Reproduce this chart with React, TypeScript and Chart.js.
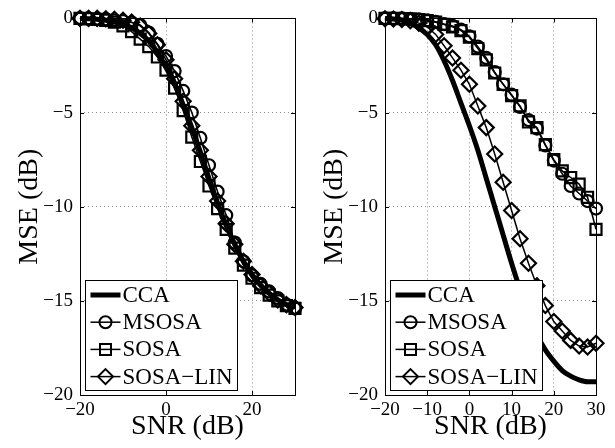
import React, { useEffect, useRef } from 'react';
import { Chart, registerables } from 'chart.js';

Chart.register(...registerables);

const snr = [-20, -18, -16, -14, -12, -10, -8, -6, -4, -2, 0, 2, 4, 6, 8, 10, 12, 14, 16, 18, 20, 22, 24, 26, 28, 30];

const ccaLeft = [0, -0.02, -0.05, -0.1, -0.2, -0.3, -0.5, -0.8, -1.2, -1.8, -2.6, -3.5, -4.6, -5.8, -7.1, -8.5, -9.8, -11.0, -12.0, -12.9, -13.6, -14.15, -14.6, -14.95, -15.2, -15.35];
const msosaLeft = [0, 0, -0.02, -0.05, -0.1, -0.15, -0.22, -0.35, -0.75, -1.35, -2.0, -2.8, -3.85, -5.0, -6.35, -7.8, -9.2, -10.45, -11.9, -12.9, -13.65, -14.1, -14.5, -14.85, -15.2, -15.4];
const sosaLeft = [0, -0.02, -0.05, -0.1, -0.2, -0.4, -0.7, -1.1, -1.5, -2.05, -2.75, -3.7, -4.9, -6.3, -7.6, -8.9, -10.1, -11.2, -12.2, -13.1, -13.8, -14.3, -14.7, -15.0, -15.25, -15.4];
const sosaLinLeft = [0, 0, 0, -0.02, -0.05, -0.1, -0.2, -0.4, -0.8, -1.4, -2.2, -3.2, -4.4, -5.7, -7.0, -8.4, -9.7, -10.9, -12.0, -12.9, -13.6, -14.2, -14.6, -14.95, -15.2, -15.35];

const ccaRight = [0, -0.03, -0.1, -0.25, -0.5, -0.85, -1.4, -2.25, -3.3, -4.5, -5.7, -7.0, -8.5, -10.0, -11.5, -13.0, -14.4, -15.7, -16.8, -17.6, -18.2, -18.7, -19.0, -19.2, -19.3, -19.3];
const msosaRight = [0, 0, 0, -0.02, -0.05, -0.1, -0.18, -0.3, -0.4, -0.6, -0.95, -1.5, -2.1, -2.85, -3.5, -4.05, -4.7, -5.4, -5.85, -6.75, -7.55, -8.25, -8.9, -9.3, -9.7, -10.1];
const sosaRight = [0, 0, -0.01, -0.03, -0.06, -0.12, -0.2, -0.32, -0.45, -0.65, -1.0, -1.6, -2.2, -2.9, -3.5, -4.1, -4.65, -5.5, -5.8, -6.7, -7.5, -8.1, -8.45, -8.8, -9.5, -11.2];
const sosaLinRight = [-0.02, -0.03, -0.06, -0.12, -0.25, -0.45, -0.85, -1.45, -2.1, -2.75, -3.5, -4.65, -5.8, -7.2, -8.7, -10.2, -11.7, -13.0, -14.2, -15.25, -16.1, -16.6, -17.1, -17.4, -17.45, -17.25];

const seriesNames = ['CCA', 'MSOSA', 'SOSA', 'SOSA\u2212LIN'];
const xTicksLeft = [-20, 0, 20];
const xTicksRight = [-20, -10, 0, 10, 20, 30];
const yTicks = [-20, -15, -10, -5, 0];
const xTitle = 'SNR (dB)';
const yTitle = 'MSE (dB)';

const SERIF = '"Liberation Serif", "Times New Roman", serif';

const fmt = (v: number) => String(v).replace('-', '\u2212');

const framePlugin = {
  id: 'frame',
  afterDatasetsDraw(chart: any) {
    const { ctx, chartArea: a, scales } = chart;
    ctx.save();
    ctx.strokeStyle = '#000';
    ctx.lineWidth = 1;
    ctx.strokeRect(Math.round(a.left) + 0.5, Math.round(a.top) + 0.5, Math.round(a.right - a.left), Math.round(a.bottom - a.top));
    const tl = 4;
    ctx.beginPath();
    scales.x.ticks.forEach((t: any) => {
      const px = Math.round(scales.x.getPixelForValue(t.value)) + 0.5;
      ctx.moveTo(px, a.bottom); ctx.lineTo(px, a.bottom - tl);
      ctx.moveTo(px, a.top); ctx.lineTo(px, a.top + tl);
    });
    scales.y.ticks.forEach((t: any) => {
      const py = Math.round(scales.y.getPixelForValue(t.value)) + 0.5;
      ctx.moveTo(a.left, py); ctx.lineTo(a.left + tl, py);
      ctx.moveTo(a.right, py); ctx.lineTo(a.right - tl, py);
    });
    ctx.stroke();
    ctx.restore();
  },
};

function drawMarker(ctx: CanvasRenderingContext2D, style: string, x: number, y: number) {
  ctx.beginPath();
  if (style === 'circle') {
    ctx.arc(x, y, 6, 0, Math.PI * 2);
  } else if (style === 'rect') {
    ctx.rect(x - 5.5, y - 5.5, 11, 11);
  } else if (style === 'rectRot') {
    ctx.moveTo(x, y - 7.5); ctx.lineTo(x + 7.5, y); ctx.lineTo(x, y + 7.5); ctx.lineTo(x - 7.5, y); ctx.closePath();
  }
  ctx.stroke();
}

const legendPlugin = {
  id: 'boxLegend',
  afterDraw(chart: any) {
    const { ctx, chartArea: a } = chart;
    const bx = Math.round(a.left) + 5.5;
    const by = Math.round(a.bottom) - 114.5;
    const bw = 152;
    const bh = 110;
    ctx.save();
    ctx.fillStyle = '#fff';
    ctx.fillRect(bx, by, bw, bh);
    ctx.strokeStyle = '#000';
    ctx.lineWidth = 1;
    ctx.strokeRect(bx, by, bw, bh);
    ctx.font = `23px ${SERIF}`;
    ctx.textBaseline = 'middle';
    ctx.fillStyle = '#000';
    chart.data.datasets.forEach((ds: any, i: number) => {
      const y = by + 14.5 + i * 27.2;
      ctx.strokeStyle = '#000';
      ctx.lineWidth = ds.borderWidth;
      ctx.beginPath();
      ctx.moveTo(bx + 5, y);
      ctx.lineTo(bx + 35, y);
      ctx.stroke();
      if (ds.pointRadius > 0) {
        ctx.lineWidth = 2;
        drawMarker(ctx, ds.pointStyle, bx + 20, y);
      }
      ctx.fillText(ds.label, bx + 37, y + 1);
    });
    ctx.restore();
  },
};

function buildDatasets(values: number[][]) {
  const styles = ['', 'circle', 'rect', 'rectRot'];
  const radii = [0, 6, 7.8, 7.5];
  return values.map((arr, i) => ({
    label: seriesNames[i],
    data: snr.map((x, j) => ({ x, y: arr[j] })),
    borderColor: '#000',
    backgroundColor: 'transparent',
    borderWidth: i === 0 ? 5 : 1.5,
    pointRadius: radii[i],
    pointStyle: styles[i] || 'circle',
    pointBorderWidth: 2.2,
    pointBorderColor: '#000',
    pointBackgroundColor: 'transparent',
    cubicInterpolationMode: i === 0 ? 'monotone' : 'default',
    tension: 0,
    clip: false,
  }));
}

function Panel(props: { left: number; width: number; padRight: number; values: number[][]; xTicks: number[] }) {
  const ref = useRef<HTMLCanvasElement>(null);
  useEffect(() => {
    const canvas = ref.current!;
    const gridCfg = { color: 'rgba(0,0,0,0.45)', lineWidth: 1, drawTicks: false };
    const borderCfg = { display: false, dash: [1, 3] };
    const chart = new Chart(canvas, {
      type: 'line',
      data: { datasets: buildDatasets(props.values) as any },
      options: {
        animation: false,
        responsive: false,
        devicePixelRatio: 1,
        layout: { padding: { left: 0, right: props.padRight, top: 14, bottom: 0 } },
        plugins: { legend: { display: false }, tooltip: { enabled: false } },
        scales: {
          x: {
            type: 'linear',
            min: -20,
            max: 30,
            afterBuildTicks: (s: any) => { s.ticks = props.xTicks.map((v) => ({ value: v })); },
            afterFit: (s: any) => { s.height = 53; },
            border: borderCfg,
            grid: gridCfg,
            ticks: { font: { family: SERIF, size: 19 }, color: '#000', padding: 4, maxRotation: 0, callback: (v: any) => fmt(v) },
            title: { display: true, text: xTitle, font: { family: SERIF, size: 28 }, color: '#000', padding: { top: 0, bottom: 5 } },
          },
          y: {
            type: 'linear',
            min: -20,
            max: 0,
            afterBuildTicks: (s: any) => { s.ticks = yTicks.map((v) => ({ value: v })); },
            afterFit: (s: any) => { s.width = 80; },
            border: borderCfg,
            grid: gridCfg,
            ticks: { font: { family: SERIF, size: 19 }, color: '#000', padding: 7, callback: (v: any) => fmt(v) },
            title: { display: true, text: yTitle, font: { family: SERIF, size: 28 }, color: '#000', padding: { top: 13, bottom: 0 } },
          },
        },
      } as any,
      plugins: [framePlugin, legendPlugin],
    });
    return () => chart.destroy();
  }, []);
  return (
    <div style={{ position: 'absolute', left: props.left, top: 0, width: props.width, height: 448 }}>
      <canvas ref={ref} width={props.width} height={448} style={{ width: props.width, height: 448, display: 'block' }} />
    </div>
  );
}

export default function App() {
  return (
    <div style={{ position: 'absolute', left: 0, top: 0, width: 615, height: 448, background: '#fff', overflow: 'hidden' }}>
      <Panel left={0} width={305} padRight={2} values={[ccaLeft, msosaLeft, sosaLeft, sosaLinLeft]} xTicks={xTicksLeft} />
      <Panel left={305} width={310} padRight={19} values={[ccaRight, msosaRight, sosaRight, sosaLinRight]} xTicks={xTicksRight} />
    </div>
  );
}
